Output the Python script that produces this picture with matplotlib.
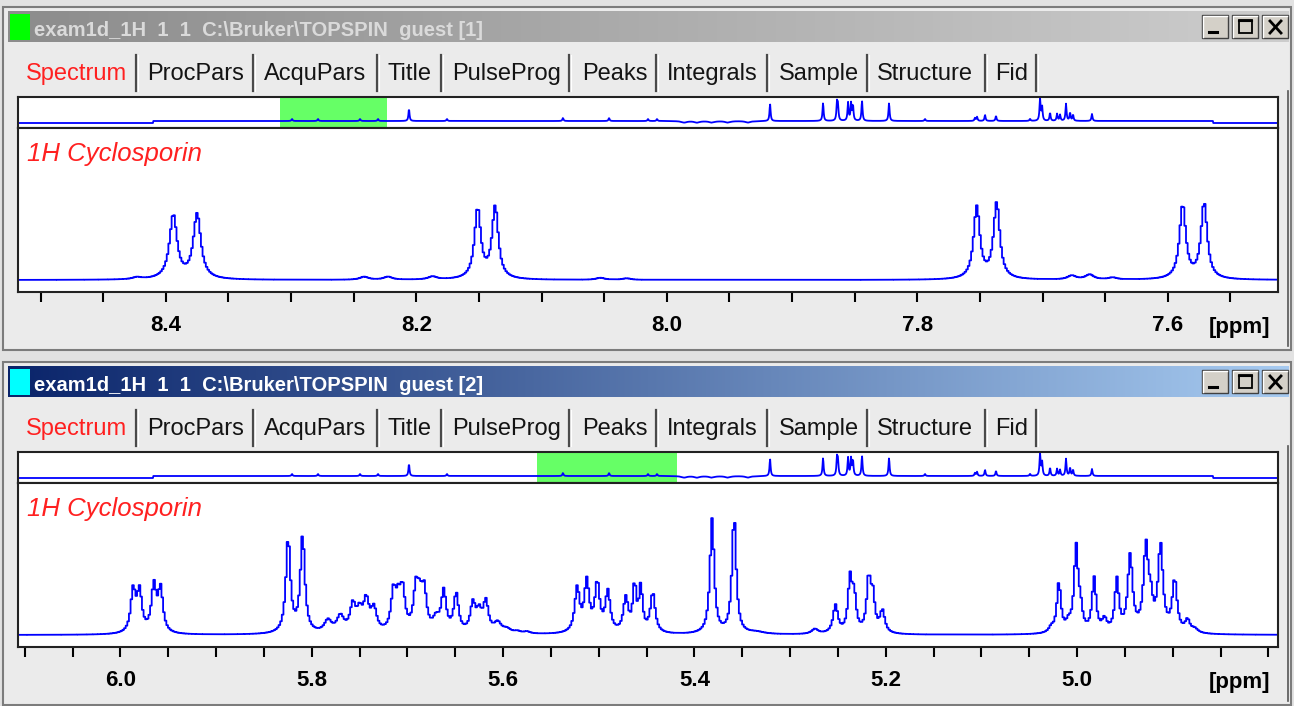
import numpy as np
import matplotlib.pyplot as plt
import matplotlib.colors as mcolors
from matplotlib.patches import Rectangle

W, H = 1294, 706

titles = ["exam1d_1H  1  1  C:\\Bruker\\TOPSPIN  guest [1]",
          "exam1d_1H  1  1  C:\\Bruker\\TOPSPIN  guest [2]"]
tab_names = ["Spectrum", "ProcPars", "AcquPars", "Title", "PulseProg",
             "Peaks", "Integrals", "Sample", "Structure", "Fid"]
spec_name = "1H Cyclosporin"
unit_label = "[ppm]"

# ppm windows: upper detail, lower detail, overview strip
view_top = (8.518, 7.512)
view_bottom = (6.107, 4.790)
full_range = (10.98, -0.86)

# upper detail (NH region): line position [ppm], height, half width [ppm]
nh_ppm = [8.423, 8.394, 8.375, 8.2416, 8.2226, 8.187, 8.151, 8.137, 8.053,
          8.032, 7.7525, 7.7366, 7.6766, 7.6624, 7.644, 7.5881, 7.571]
nh_height = [2, 64, 65, 3, 3, 3, 70, 72, 2, 1.5, 72, 76, 4, 5, 2, 74, 76]
nh_hw = [0.004, 0.0036, 0.0036, 0.004, 0.004, 0.004, 0.003, 0.003, 0.004,
         0.004, 0.003, 0.003, 0.004, 0.004, 0.004, 0.003, 0.003]

# lower detail (olefinic / alpha region)
ha_ppm = [5.9866, 5.980, 5.965, 5.958, 5.8246, 5.8095, 5.783, 5.770, 5.757,
          5.750, 5.743, 5.735, 5.7145, 5.7095, 5.705, 5.691, 5.687, 5.6825,
          5.670, 5.662, 5.649, 5.6315, 5.625, 5.618, 5.6056, 5.596, 5.585,
          5.575, 5.5225, 5.5125, 5.5015, 5.4905, 5.4717, 5.4625, 5.4560,
          5.4435, 5.3815, 5.3585, 5.335, 5.274, 5.2525, 5.2373, 5.233, 5.2178,
          5.2135, 5.2035, 5.027, 5.019, 5.009, 5.001, 4.9965, 4.9822, 4.9714,
          4.9584, 4.9445, 4.928, 4.923, 4.9128, 4.898, 4.8846, 4.877]
ha_height = [42, 40, 46, 43, 95, 97, 12, 16, 26, 18, 30, 22, 38, 26, 38, 40,
             26, 38, 12, 40, 38, 28, 18, 30, 10, 4, 2, 2, 44, 50, 48, 40, 34,
             46, 44, 40, 115, 118, 2, 5, 28, 52, 34, 52, 34, 22, 5, 50, 8, 84,
             20, 54, 12, 52, 76, 84, 24, 86, 52, 12, 4]
ha_hw = [0.003, 0.003, 0.003, 0.003, 0.0028, 0.0028, 0.0045, 0.0045, 0.0035,
         0.0035, 0.0035, 0.0035, 0.003, 0.003, 0.003, 0.003, 0.003, 0.003,
         0.004, 0.003, 0.003, 0.0032, 0.0032, 0.0032, 0.0045, 0.005, 0.004,
         0.004, 0.003, 0.003, 0.003, 0.003, 0.003, 0.0022, 0.0022, 0.003,
         0.0026, 0.0026, 0.01, 0.004, 0.003, 0.0025, 0.0025, 0.0025, 0.0025,
         0.003, 0.003, 0.0025, 0.003, 0.0025, 0.0025, 0.0025, 0.003, 0.0025,
         0.003, 0.003, 0.0025, 0.003, 0.003, 0.003, 0.004]

# overview strip: the whole spectrum, coarse
over_ppm = [8.405, 8.161, 7.766, 7.597, 7.306, 6.949, 5.859, 5.426, 5.06,
            4.975, 4.72, 4.60, 4.46, 4.31, 4.12, 3.913, 3.415, 3.284, 3.275,
            3.18, 3.152, 3.134, 3.049, 2.795, 2.457, 1.987, 1.968, 1.893, 1.79,
            1.47, 1.376, 1.357, 1.282, 1.216, 1.188, 1.132, 1.094, 1.066, 0.888]
over_height = [2, 2, 2, 2, 12, 2, 3, 3, 2, 2, -1.5, -1.5, -1.5, -1.5, -1.5,
               17, 18, 17, 14, 18, 17, 15, 20, 18, 2, 3, 4, 6, 5, 2, 22, 14, 8,
               7, 6, 17, 8, 6, 7]
over_hw = [0.006] * 10 + [0.03] * 5 + [0.006] * 24
over_breaks = [9.71, -0.25]
over_levels = [0.0, 2.0, 0.0]


def spectrum(x, ppm, height, hw):
    y = np.zeros_like(x)
    for p, h, w in zip(ppm, height, hw):
        y += h * w * w / ((x - p) ** 2 + w * w)
    return y


fig = plt.figure(figsize=(W / 100, H / 100), dpi=100)
fig.patch.set_facecolor('#e2e2e2')
bg = fig.add_axes([0, 0, 1, 1])
bg.axis('off')


def px_axes(x0, y0, x1, y1):
    return fig.add_axes([x0 / W, 1 - y1 / H, (x1 - x0) / W, (y1 - y0) / H])


def gradient(x0, x1, y0, y1, c0, c1):
    t = np.linspace(0, 1, 256)[None, :, None]
    a = np.array(mcolors.to_rgb(c0))
    b = np.array(mcolors.to_rgb(c1))
    bg.imshow(a + (b - a) * t, extent=(x0, x1, y1, y0), aspect='auto',
              interpolation='bilinear', zorder=1)


def draw_window(dy, title, bar, title_color, square, view, ppm, height, hw, step):
    bg.add_patch(Rectangle((3, 7 + dy), 1288, 343, fc='#ebebeb', ec='#7c7c7c',
                           lw=1.5, zorder=0.5))
    gradient(8, 1289, 11 + dy, 42 + dy, *bar)
    bg.add_patch(Rectangle((10, 14 + dy), 20, 26, fc=square, ec='none', zorder=2))
    bg.text(34, 36 + dy, title, fontsize=14.5, fontweight='bold',
            family='Liberation Sans', color=title_color, va='baseline', zorder=3)

    # window buttons
    for i, bx in enumerate([1202, 1232, 1262]):
        bg.add_patch(Rectangle((bx, 15 + dy), 26, 23, fc='#d4d0c8', ec='#404040',
                               lw=1, zorder=2))
        bg.plot([bx + 1, bx + 1, bx + 25], [37 + dy, 16 + dy, 16 + dy],
                color='white', lw=1, zorder=3)
        if i == 0:
            bg.plot([bx + 7, bx + 15], [32 + dy, 32 + dy], color='k', lw=2.2, zorder=4)
        elif i == 1:
            bg.add_patch(Rectangle((bx + 7, 20 + dy), 13, 13, fill=False, ec='k',
                                   lw=1.3, zorder=4))
            bg.plot([bx + 7, bx + 20], [20.5 + dy, 20.5 + dy], color='k', lw=1.5, zorder=4)
        else:
            bg.plot([bx + 8, bx + 19], [21 + dy, 33 + dy], color='k', lw=2, zorder=4)
            bg.plot([bx + 8, bx + 19], [33 + dy, 21 + dy], color='k', lw=2, zorder=4)

    # tabs
    tab_x = [26, 147, 264, 388, 452, 582, 667, 779, 877, 995]
    sep_x = [136, 253, 377, 441, 569, 656, 767, 867, 985, 1036]
    for i, name in enumerate(tab_names):
        bg.text(tab_x[i], 80 + dy, name, fontsize=17, family='Liberation Sans',
                color='#ff2020' if i == 0 else '#141414', va='baseline', zorder=3)
        bg.plot([sep_x[i], sep_x[i]], [55 + dy, 91 + dy], color='#4a4a4a', lw=1.6, zorder=3)
        bg.plot([sep_x[i] + 2, sep_x[i] + 2], [55 + dy, 91 + dy], color='white',
                lw=0.8, zorder=3)
    bg.plot([1288, 1288], [91 + dy, 346 + dy], color='#555555', lw=1.2, zorder=2)

    # overview strip
    ov = px_axes(18, 97 + dy, 1278, 128 + dy)
    xo = np.arange(full_range[1], full_range[0], 0.004)
    base = np.select([xo > over_breaks[0], xo > over_breaks[1]], over_levels[:2],
                     over_levels[2])
    ov.plot(xo, base + spectrum(xo, over_ppm, over_height, over_hw),
            color='#0000ff', lw=1.3)
    ov.axvspan(view[0], view[1], color='#66ff66', zorder=0, lw=0)
    ov.set_xlim(full_range)
    ov.set_ylim(-5, 26)
    ov.set_xticks([])
    ov.set_yticks([])

    # detail view
    ax = px_axes(18, 128 + dy, 1278, 292 + dy)
    x = np.arange(view[1], view[0], step)
    ax.plot(x, spectrum(x, ppm, height, hw), color='#0000ff', lw=1.3,
            drawstyle='steps-mid')
    ax.set_xlim(view)
    ax.set_ylim(-12, 152)
    ax.set_yticks([])
    major = np.arange(np.ceil(view[1] / 0.2 - 1e-9), np.floor(view[0] / 0.2 + 1e-9) + 1) * 0.2
    minor = np.arange(np.ceil(view[1] / 0.05 - 1e-9), np.floor(view[0] / 0.05 + 1e-9) + 1) * 0.05
    # the unit label takes the place of a number too close to the right edge
    xpix = 18 + (view[0] - major) / (view[0] - view[1]) * 1260
    labels = [f'{v:.1f}' if px < 1195 else '' for v, px in zip(major, xpix)]
    ax.set_xticks(major, labels, fontsize=16, fontweight='bold',
                  family='Liberation Sans')
    ax.set_xticks(minor, minor=True)
    ax.tick_params(axis='x', which='both', direction='out', length=7.2,
                   width=1.5, pad=9.5)
    ax.text((27 - 18) / 1260, 1 - (161 - 128) / 164, spec_name, transform=ax.transAxes,
            color='#ff2020', fontsize=18.5, style='italic', family='Liberation Sans',
            va='baseline')
    for a in (ov, ax):
        for s in a.spines.values():
            s.set_linewidth(1.5)
            s.set_color('#222222')
    bg.text(1240, 333 + dy, unit_label, fontsize=16, fontweight='bold',
            family='Liberation Sans', ha='center', va='baseline', zorder=3)


draw_window(0, titles[0], ('#8c8c8c', '#cdcdcd'), '#dadada', '#00ff00',
            view_top, nh_ppm, nh_height, nh_hw, 0.0013)
draw_window(355, titles[1], ('#0a246a', '#a6caf0'), 'white', '#00ffff',
            view_bottom, ha_ppm, ha_height, ha_hw, 0.0017)

bg.set_xlim(0, W)
bg.set_ylim(H, 0)

plt.savefig('out.png', dpi=100)
